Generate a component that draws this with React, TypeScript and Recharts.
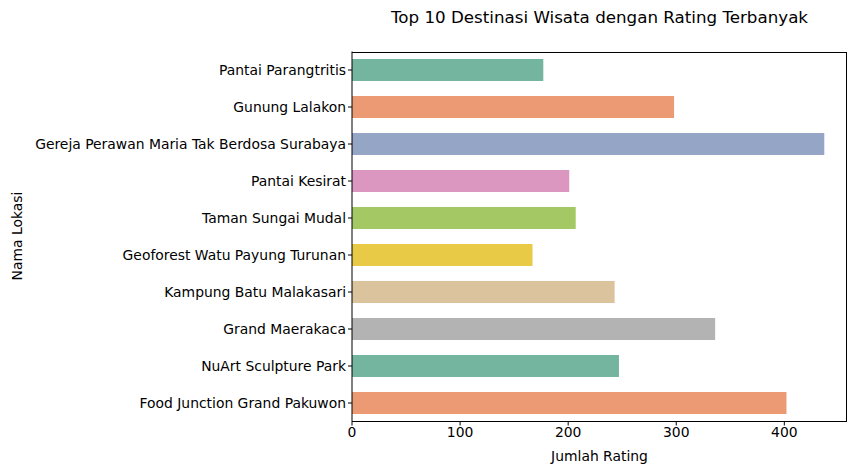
import { BarChart, Bar, XAxis, YAxis, Cell } from 'recharts';

const locations = [
  'Pantai Parangtritis',
  'Gunung Lalakon',
  'Gereja Perawan Maria Tak Berdosa Surabaya',
  'Pantai Kesirat',
  'Taman Sungai Mudal',
  'Geoforest Watu Payung Turunan',
  'Kampung Batu Malakasari',
  'Grand Maerakaca',
  'NuArt Sculpture Park',
  'Food Junction Grand Pakuwon',
];
const ratings = [177, 298, 437, 201, 207, 167, 243, 336, 247, 402];
const xTicks = [0, 100, 200, 300, 400];

const COLORS = ['#73b59f', '#ec9a74', '#94a5c5', '#dc97c1', '#a4c964', '#e8ca47', '#dbc39d', '#b3b3b3'];

const data = locations.map((name, i) => ({ name, value: ratings[i] }));

const font = 'DejaVu Sans, sans-serif';

export default function App() {
  return (
    <div style={{ position: 'absolute', left: 0, top: 0, width: 857, height: 474, background: '#fff', fontFamily: font }}>
      <div style={{ position: 'absolute', left: 352, width: 495, top: 7, textAlign: 'center', fontSize: 16.7, color: '#000' }}>
        Top 10 Destinasi Wisata dengan Rating Terbanyak
      </div>
      <div style={{ position: 'absolute', left: 352, width: 495, top: 448, textAlign: 'center', fontSize: 13.9, color: '#000' }}>
        Jumlah Rating
      </div>
      <div style={{ position: 'absolute', left: 17, top: 236, fontSize: 13.9, color: '#000', transform: 'translate(-50%, -50%) rotate(-90deg)', whiteSpace: 'nowrap' }}>
        Nama Lokasi
      </div>
      <BarChart
        width={857}
        height={474}
        data={data}
        layout="vertical"
        margin={{ left: 8, right: 10, top: 51.5, bottom: 22.5 }}
        barCategoryGap="20%"
      >
        <XAxis
          type="number"
          domain={[0, 458]}
          ticks={xTicks}
          tick={{ fill: '#000', fontSize: 13.9, fontFamily: font }}
          stroke="#000"
          tickSize={4}
          height={30}
        />
        <YAxis
          dataKey="name"
          type="category"
          width={344}
          tick={{ fill: '#000', fontSize: 13.9, fontFamily: font }}
          stroke="#000"
          tickSize={4}
        />
        <Bar dataKey="value" isAnimationActive={false}>
          {data.map((_, i) => (
            <Cell key={i} fill={COLORS[i % COLORS.length]} />
          ))}
        </Bar>
      </BarChart>
      <div style={{ position: 'absolute', left: 352, top: 51.5, width: 495, height: 370, border: '1px solid #000', borderLeft: 'none', borderBottom: 'none', boxSizing: 'border-box', pointerEvents: 'none' }} />
    </div>
  );
}
